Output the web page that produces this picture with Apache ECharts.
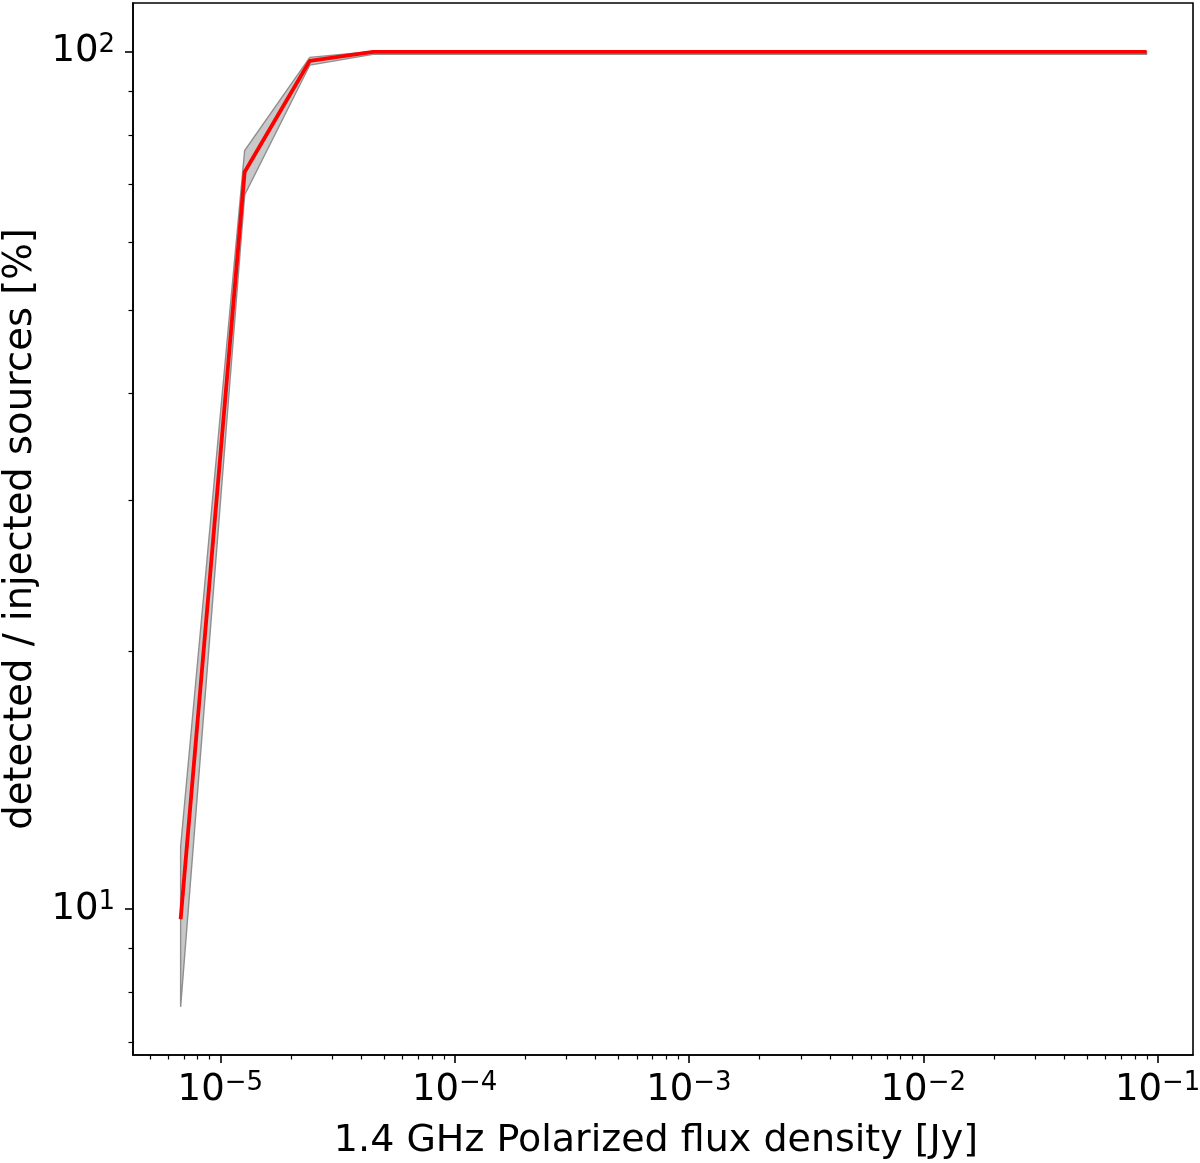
<!DOCTYPE html>
<html>
<head>
<meta charset="utf-8">
<title>completeness</title>
<script src="https://cdn.jsdelivr.net/npm/echarts@6/dist/echarts.min.js"></script>
<style>
  html, body { margin: 0; padding: 0; background: #fff; }
  #chart { width: 1200px; height: 1163px; }
</style>
</head>
<body>
<div id="chart"></div>
<script>
// flux bins [Jy]
var fluxJy = [6.77e-6, 1.27e-5, 2.41e-5, 4.48e-5, 8.49e-5, 1.60e-4, 3.00e-4, 5.59e-4,
              1.06e-3, 1.97e-3, 3.74e-3, 7.08e-3, 1.32e-2, 2.48e-2, 4.70e-2, 8.97e-2];
// detected / injected [%]
var detectedPct = [9.73, 72.4, 97.6, 100, 100, 100, 100, 100, 100, 100, 100, 100, 100, 100, 100, 100];
var lowerPct    = [7.69, 68.1, 96.5, 99.3, 99.3, 99.3, 99.3, 99.3, 99.3, 99.3, 99.3, 99.3, 99.3, 99.3, 99.3, 99.3];
var upperPct    = [11.82, 76.7, 98.5, 100.1, 100.1, 100.1, 100.1, 100.1, 100.1, 100.1, 100.1, 100.1, 100.1, 100.1, 100.1, 100.1];

var xMajor = [1e-5, 1e-4, 1e-3, 1e-2, 1e-1];
var xMinor = [5e-6, 6e-6, 7e-6, 8e-6, 9e-6,
              2e-5, 3e-5, 4e-5, 5e-5, 6e-5, 7e-5, 8e-5, 9e-5,
              2e-4, 3e-4, 4e-4, 5e-4, 6e-4, 7e-4, 8e-4, 9e-4,
              2e-3, 3e-3, 4e-3, 5e-3, 6e-3, 7e-3, 8e-3, 9e-3,
              2e-2, 3e-2, 4e-2, 5e-2, 6e-2, 7e-2, 8e-2, 9e-2];
var yMajor = [10, 100];
var yMinor = [7, 8, 9, 20, 30, 40, 50, 60, 70, 80, 90];

var X_MIN = 4.24e-6, X_MAX = 0.1416;
var Y_MIN = 6.757, Y_MAX = 114;

var FONT = 'DejaVu Sans';

function powLabel(v) {
    var e = Math.round(Math.log10(v));
    return '{b|10}{s|' + (e < 0 ? '\u2212' + (-e) : e) + '}';
}
var richPow = {
    b: { fontSize: 37, lineHeight: 40, color: '#000', fontFamily: FONT },
    s: { fontSize: 26, lineHeight: 20, verticalAlign: 'top', color: '#000', fontFamily: FONT }
};

var chart = echarts.init(document.getElementById('chart'));

var bandData = fluxJy.map(function (x, i) { return [x, lowerPct[i], upperPct[i]]; });
var lineData = fluxJy.map(function (x, i) { return [x, detectedPct[i]]; });

var option = {
    animation: false,
    backgroundColor: '#fff',
    textStyle: { fontFamily: FONT },
    grid: {
        left: 133, right: 7, top: 3, bottom: 108,
        outerBoundsMode: 'none', containLabel: false,
        show: true, borderColor: '#000', borderWidth: 1.6, backgroundColor: 'transparent'
    },
    xAxis: [{
        type: 'log', logBase: 10, min: X_MIN, max: X_MAX, position: 'bottom',
        name: '1.4 GHz Polarized flux density [Jy]',
        nameLocation: 'middle', nameGap: 67,
        nameTextStyle: { fontSize: 38, color: '#000', fontFamily: FONT, padding: [0, 14, 0, 0] },
        axisLine: { show: true, lineStyle: { color: '#000', width: 1.6 } },
        axisTick: { show: true, inside: false, length: 8, customValues: xMajor, lineStyle: { color: '#000', width: 1.6 } },
        axisLabel: { show: true, margin: 15, customValues: xMajor, formatter: powLabel, rich: richPow },
        splitLine: { show: false }, minorTick: { show: false }
    }, {
        type: 'log', logBase: 10, min: X_MIN, max: X_MAX, position: 'bottom',
        axisLine: { show: false },
        axisTick: { show: true, inside: false, length: 4.5, customValues: xMinor, lineStyle: { color: '#000', width: 1.2 } },
        axisLabel: { show: false },
        splitLine: { show: false }
    }],
    yAxis: [{
        type: 'log', logBase: 10, min: Y_MIN, max: Y_MAX, position: 'left',
        name: 'detected / injected sources [%]',
        nameLocation: 'middle', nameGap: 93,
        nameTextStyle: { fontSize: 38.5, color: '#000', fontFamily: FONT },
        axisLine: { show: true, lineStyle: { color: '#000', width: 1.6 } },
        axisTick: { show: true, inside: false, length: 8, customValues: yMajor, lineStyle: { color: '#000', width: 1.6 } },
        axisLabel: { show: true, margin: 18, customValues: yMajor, formatter: powLabel, rich: richPow },
        splitLine: { show: false }, minorTick: { show: false }
    }, {
        type: 'log', logBase: 10, min: Y_MIN, max: Y_MAX, position: 'left',
        axisLine: { show: false },
        axisTick: { show: true, inside: false, length: 4.5, customValues: yMinor, lineStyle: { color: '#000', width: 1.2 } },
        axisLabel: { show: false },
        splitLine: { show: false }
    }],
    series: [{
        // uncertainty band, whole polygon drawn once
        type: 'custom',
        xAxisIndex: 0, yAxisIndex: 0,
        data: bandData,
        encode: { x: 0, y: [1, 2] },
        silent: true,
        z: 2,
        renderItem: function (params, api) {
            if (params.dataIndex !== 0) return null;
            var pts = [];
            var i;
            for (i = 0; i < fluxJy.length; i++) pts.push(api.coord([fluxJy[i], upperPct[i]]));
            for (i = fluxJy.length - 1; i >= 0; i--) pts.push(api.coord([fluxJy[i], lowerPct[i]]));
            return {
                type: 'polygon',
                shape: { points: pts },
                style: { fill: '#c8c8c8', stroke: '#8f8f8f', lineWidth: 1.4 }
            };
        }
    }, {
        type: 'line',
        xAxisIndex: 0, yAxisIndex: 0,
        data: lineData,
        showSymbol: false,
        symbol: 'none',
        silent: true,
        z: 3,
        lineStyle: { color: '#ff0000', width: 3.8 }
    }]
};

chart.setOption(option);
</script>
</body>
</html>
